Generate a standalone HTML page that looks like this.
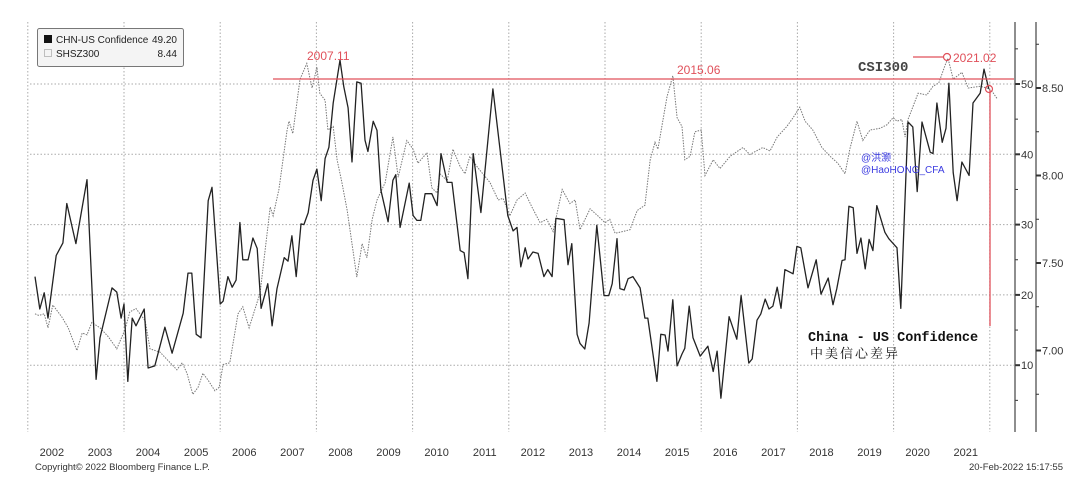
<!DOCTYPE html>
<html><head><meta charset="utf-8"><style>
body{margin:0;background:#fff;width:1080px;height:491px;overflow:hidden;font-family:"Liberation Sans","Noto Sans CJK SC",sans-serif}
svg{display:block}
</style></head><body>
<svg id="chart" width="1080" height="491" viewBox="0 0 1080 491" xmlns="http://www.w3.org/2000/svg">
<g id="grid"></g>
<g id="axes"></g>
<g id="series"></g>
<g id="annot">
  <line x1="273" y1="79" x2="1014" y2="79" stroke="#e0505a" stroke-width="1.3"/>
  <line x1="990" y1="90" x2="990" y2="326" stroke="#e0505a" stroke-width="1.3"/>
  <circle cx="989" cy="89" r="3.5" fill="none" stroke="#e0505a" stroke-width="1.2"/>
  <line x1="913" y1="57" x2="943" y2="57" stroke="#e0505a" stroke-width="1.2"/>
  <circle cx="947" cy="57" r="3.5" fill="none" stroke="#e0505a" stroke-width="1.2"/>
  <text x="953" y="62" font-size="12" fill="#e0505a">2021.02</text>
  <text x="307" y="60" font-size="12" fill="#e0505a">2007.11</text>
  <text x="677" y="74" font-size="12" fill="#e0505a">2015.06</text>
  <text x="858" y="71" font-size="14" font-weight="bold" fill="#444" font-family="Liberation Mono,monospace">CSI300</text>
  <text x="861" y="161" font-size="10" fill="#3a3ae0">@洪灏</text>
  <text x="861" y="173" font-size="10" fill="#3a3ae0">@HaoHONG_CFA</text>
  <text x="808" y="341" font-size="13.5" font-weight="bold" fill="#111" font-family="Liberation Mono,monospace">China - US Confidence</text>
  <text x="810" y="358" font-size="13" fill="#111" font-family="Noto Serif CJK SC,serif" letter-spacing="2">中美信心差异</text>
</g>
<g id="legend">
  <rect x="37.5" y="28.5" width="146" height="38" rx="2" fill="#f4f4f4" stroke="#777"/>
  <rect x="44" y="35" width="8" height="8" fill="#111"/>
  <text x="56" y="43" font-size="10" fill="#222">CHN-US Confidence</text>
  <text x="177" y="43" font-size="10" fill="#222" text-anchor="end">49.20</text>
  <rect x="44.5" y="49.5" width="7" height="7" fill="none" stroke="#888" stroke-dasharray="1,1"/>
  <text x="56" y="57" font-size="10" fill="#222">SHSZ300</text>
  <text x="177" y="57" font-size="10" fill="#222" text-anchor="end">8.44</text>
</g>
<text x="35" y="470" font-size="9.5" fill="#333">Copyright© 2022 Bloomberg Finance L.P.</text>
<text x="1063" y="470" font-size="9.5" fill="#333" text-anchor="end">20-Feb-2022 15:17:55</text>
</svg>
<script>
const confDates=[2002.15,2002.25,2002.34,2002.42,2002.59,2002.73,2002.81,2003.00,2003.23,2003.42,2003.50,2003.75,2003.85,2003.94,2004.00,2004.08,2004.17,2004.25,2004.42,2004.50,2004.64,2004.85,2005.00,2005.23,2005.33,2005.41,2005.50,2005.60,2005.75,2005.83,2006.00,2006.06,2006.16,2006.25,2006.33,2006.41,2006.47,2006.58,2006.68,2006.77,2006.85,2006.99,2007.08,2007.18,2007.33,2007.41,2007.49,2007.58,2007.68,2007.74,2007.83,2007.93,2008.01,2008.10,2008.18,2008.26,2008.35,2008.49,2008.57,2008.66,2008.74,2008.84,2008.93,2009.01,2009.07,2009.18,2009.26,2009.34,2009.49,2009.59,2009.65,2009.74,2009.93,2010.01,2010.09,2010.17,2010.26,2010.40,2010.51,2010.59,2010.72,2010.82,2010.99,2011.07,2011.15,2011.26,2011.42,2011.67,2011.82,2011.98,2012.09,2012.17,2012.25,2012.34,2012.40,2012.50,2012.61,2012.73,2012.81,2012.90,2012.98,2013.15,2013.23,2013.31,2013.42,2013.48,2013.58,2013.67,2013.83,2013.98,2014.08,2014.15,2014.25,2014.31,2014.40,2014.48,2014.58,2014.73,2014.83,2014.89,2015.08,2015.16,2015.25,2015.31,2015.41,2015.50,2015.60,2015.66,2015.75,2015.83,2015.98,2016.14,2016.25,2016.33,2016.41,2016.58,2016.74,2016.83,2016.99,2017.06,2017.16,2017.24,2017.33,2017.41,2017.49,2017.58,2017.66,2017.74,2017.91,2017.99,2018.07,2018.22,2018.39,2018.49,2018.64,2018.74,2018.82,2018.93,2018.99,2019.07,2019.16,2019.24,2019.32,2019.41,2019.49,2019.57,2019.65,2019.82,2019.90,2020.07,2020.15,2020.30,2020.40,2020.49,2020.59,2020.76,2020.82,2020.90,2021.01,2021.09,2021.15,2021.24,2021.32,2021.42,2021.57,2021.65,2021.80,2021.88,2021.98];
const confValues=[22.6,18.0,20.3,16.7,25.6,27.4,33.0,27.3,36.4,8.0,13.9,21.0,20.4,16.7,18.7,7.7,16.7,15.6,18.0,9.6,9.9,15.4,11.7,17.4,23.1,23.1,14.4,13.9,33.4,35.3,18.7,19.1,22.6,21.1,22.1,30.3,25.0,25.0,28.1,26.6,18.1,21.6,15.6,20.9,25.3,24.8,28.4,22.6,30.1,30.0,31.7,36.3,37.9,33.4,39.4,41.0,47.3,53.4,49.6,46.6,38.9,50.3,50.1,42.0,40.4,44.7,43.4,34.9,30.4,36.3,37.1,29.6,35.9,31.3,30.6,30.6,34.4,34.4,32.7,40.1,36.0,36.0,26.3,26.0,22.3,40.1,31.7,49.3,40.6,31.3,29.1,29.6,24.0,26.7,25.1,26.1,25.9,22.6,23.6,22.6,30.9,30.7,24.3,27.3,14.4,13.1,12.3,16.0,29.9,19.9,19.9,21.6,28.0,20.9,20.7,22.3,22.6,21.0,16.7,16.7,7.7,14.4,14.3,12.0,19.3,9.9,11.6,12.4,18.4,13.9,11.3,12.7,9.1,12.0,5.3,16.9,13.7,19.9,10.3,10.9,16.4,17.3,19.4,18.0,18.4,21.1,18.1,23.6,23.0,26.9,26.7,21.0,25.0,20.1,22.4,18.6,20.9,24.9,25.0,32.6,32.4,25.9,28.1,23.7,27.9,26.3,32.7,28.9,28.0,26.7,18.1,44.6,43.9,34.7,44.6,40.3,40.1,47.3,41.7,43.7,50.1,37.4,33.4,38.9,37.0,47.3,48.7,52.1,49.3];
const csiDates=[2002.15,2002.23,2002.34,2002.42,2002.52,2002.71,2002.84,2003.02,2003.13,2003.23,2003.33,2003.50,2003.67,2003.85,2004.02,2004.12,2004.25,2004.44,2004.54,2004.75,2004.96,2005.10,2005.21,2005.31,2005.43,2005.54,2005.64,2005.75,2005.89,2005.98,2006.06,2006.20,2006.37,2006.47,2006.60,2006.83,2007.04,2007.10,2007.22,2007.39,2007.43,2007.51,2007.66,2007.80,2007.91,2008.01,2008.07,2008.18,2008.24,2008.35,2008.43,2008.53,2008.64,2008.74,2008.84,2008.95,2009.05,2009.16,2009.26,2009.43,2009.59,2009.70,2009.88,2010.01,2010.11,2010.30,2010.40,2010.51,2010.57,2010.72,2010.84,2010.99,2011.09,2011.19,2011.34,2011.46,2011.61,2011.78,2011.88,2012.02,2012.17,2012.34,2012.48,2012.65,2012.79,2012.92,2013.11,2013.27,2013.38,2013.48,2013.69,2013.85,2014.00,2014.10,2014.21,2014.37,2014.52,2014.67,2014.83,2014.94,2015.04,2015.10,2015.29,2015.41,2015.50,2015.60,2015.66,2015.77,2015.87,2016.00,2016.08,2016.25,2016.39,2016.60,2016.87,2017.01,2017.28,2017.43,2017.58,2017.78,2017.91,2018.05,2018.16,2018.32,2018.51,2018.68,2018.84,2018.99,2019.09,2019.24,2019.36,2019.51,2019.72,2019.86,2019.99,2020.07,2020.17,2020.24,2020.30,2020.51,2020.69,2020.82,2020.94,2021.07,2021.13,2021.24,2021.42,2021.55,2021.80,2021.94,2022.05,2022.15];
const csiValues=[7.21,7.20,7.21,7.13,7.26,7.19,7.13,7.00,7.10,7.09,7.16,7.13,7.08,7.01,7.12,7.22,7.24,7.17,7.01,6.99,6.93,6.89,6.93,6.87,6.75,6.79,6.87,6.83,6.77,6.79,6.92,6.93,7.21,7.25,7.13,7.33,7.82,7.77,7.92,8.26,8.31,8.24,8.55,8.64,8.50,8.62,8.47,8.43,8.26,8.28,8.09,7.96,7.80,7.61,7.42,7.61,7.53,7.75,7.86,7.96,8.22,7.99,8.20,8.15,8.07,8.13,7.93,7.90,8.01,7.97,8.15,8.05,8.01,8.11,8.05,8.01,7.96,7.86,7.87,7.77,7.86,7.90,7.82,7.73,7.75,7.68,7.92,7.84,7.86,7.69,7.81,7.77,7.73,7.75,7.67,7.68,7.69,7.80,7.83,8.09,8.19,8.15,8.45,8.57,8.33,8.28,8.09,8.11,8.25,8.26,8.00,8.09,8.04,8.11,8.16,8.12,8.16,8.14,8.22,8.28,8.33,8.39,8.31,8.26,8.16,8.11,8.07,8.01,8.15,8.31,8.20,8.26,8.27,8.29,8.33,8.31,8.32,8.22,8.32,8.47,8.46,8.51,8.53,8.63,8.67,8.55,8.59,8.50,8.51,8.50,8.48,8.44];
const years=[2002,2003,2004,2005,2006,2007,2008,2009,2010,2011,2012,2013,2014,2015,2016,2017,2018,2019,2020,2021];
const leftTicks=[10,20,30,40,50];
const rightTicks=[7.00,7.50,8.00,8.50];

const X0=124,X_PER_YEAR=48.1;
function x(t){return X0+(t-2004)*X_PER_YEAR;}
function yL(v){return 84+(50-v)*7.03;}
function yR(r){return 88+(8.5-r)*175;}
const NS="http://www.w3.org/2000/svg";
function mk(tag,attrs,parent){const e=document.createElementNS(NS,tag);for(const k in attrs)e.setAttribute(k,attrs[k]);parent.appendChild(e);return e;}
const grid=document.getElementById('grid'),axes=document.getElementById('axes'),series=document.getElementById('series');
const PL=30,PR=1014,PT=22,PB=432;
leftTicks.forEach(v=>{
  const l=mk('line',{x1:PL,x2:PR,y1:yL(v),y2:yL(v),stroke:'#aaa','stroke-dasharray':'1.5,2'},grid);
  
  
  const tk=mk('line',{x1:1015,x2:1020,y1:yL(v),y2:yL(v),stroke:'#333','stroke-width':2},axes);
  
  
  const t=mk('text',{x:1021,y:yL(v)+4,'font-size':11,fill:'#333'},axes);t.textContent=v;
  
  
});
[5,15,25,35,45,55].forEach(v=>{mk('line',{x1:1015,x2:1018,y1:yL(v),y2:yL(v),stroke:'#333'},axes);});
years.forEach(yr=>{
  if(yr%2===0){
    const g=mk('line',{x1:x(yr),x2:x(yr),y1:PT,y2:PB,stroke:'#aaa','stroke-dasharray':'1.5,2'},grid);
    
    
  }
  const t=mk('text',{x:x(yr+0.5),y:456,'font-size':11,fill:'#333','text-anchor':'middle'},axes);t.textContent=yr;
  
  
});
const g2022=mk('line',{x1:x(2022),x2:x(2022),y1:PT,y2:PB,stroke:'#aaa','stroke-dasharray':'1.5,2'},grid);


const la=mk('line',{x1:1015,x2:1015,y1:PT,y2:PB,stroke:'#444','stroke-width':1.2},axes);


const ra=mk('line',{x1:1036,x2:1036,y1:PT,y2:PB,stroke:'#444','stroke-width':1.2},axes);


rightTicks.forEach(r=>{
  mk('line',{x1:1036,x2:1041,y1:yR(r),y2:yR(r),stroke:'#333','stroke-width':2},axes);
  const t=mk('text',{x:1042,y:yR(r)+4,'font-size':11,fill:'#333'},axes);t.textContent=r.toFixed(2);
  
  
});
[6.75,7.25,7.75,8.25,8.75].forEach(r=>{mk('line',{x1:1036,x2:1039,y1:yR(r),y2:yR(r),stroke:'#333'},axes);});
const csiPath=csiDates.map((d,i)=>(i?'L':'M')+x(d).toFixed(1)+','+yR(csiValues[i]).toFixed(1)).join('');
const p1=mk('path',{d:csiPath,fill:'none',stroke:'#777','stroke-width':1,'stroke-dasharray':'1.5,1.2'},series);


const confPath=confDates.map((d,i)=>(i?'L':'M')+x(d).toFixed(1)+','+yL(confValues[i]).toFixed(1)).join('');
const p2=mk('path',{d:confPath,fill:'none',stroke:'#222','stroke-width':1.3,'stroke-linejoin':'round'},series);


</script>
</body></html>
